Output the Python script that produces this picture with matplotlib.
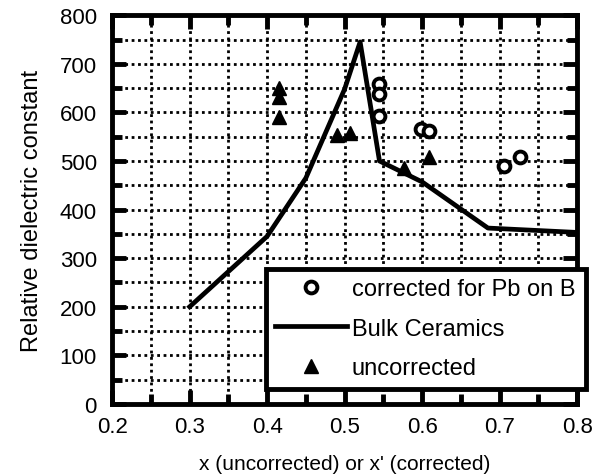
import matplotlib.pyplot as plt
from matplotlib.ticker import MultipleLocator

plt.rcParams['font.family'] = ['Liberation Sans', 'DejaVu Sans']

# Bulk ceramics curve
bulk_x = [0.3, 0.4, 0.45, 0.5, 0.52, 0.545, 0.6, 0.685, 0.8]
bulk_y = [200, 345, 465, 648, 745, 500, 457, 362, 353]

# corrected for Pb on B (open circles)
corr_x = [0.545, 0.545, 0.545, 0.598, 0.609, 0.706, 0.726]
corr_y = [658, 638, 592, 566, 562, 490, 508]

# uncorrected (filled triangles)
unc_x = [0.415, 0.415, 0.415, 0.49, 0.507, 0.576, 0.609]
unc_y = [650, 632, 590, 553, 558, 486, 508]

fig = plt.figure(figsize=(6.03, 4.77), dpi=100)
ax = fig.add_axes([0.186, 0.151, 0.771, 0.815])

ax.plot(corr_x, corr_y, 'o', mfc='white', mec='black', mew=2.8, ms=8.5,
        label='corrected for Pb on B', zorder=4)
ax.plot(bulk_x, bulk_y, '-', color='black', lw=3.4, label='Bulk Ceramics', zorder=3)
ax.plot(unc_x, unc_y, '^', color='black', ms=10, label='uncorrected', zorder=4)

ax.set_xlim(0.2, 0.8)
ax.set_ylim(0, 800)
ax.xaxis.set_major_locator(MultipleLocator(0.1))
ax.xaxis.set_minor_locator(MultipleLocator(0.05))
ax.yaxis.set_major_locator(MultipleLocator(100))
ax.yaxis.set_minor_locator(MultipleLocator(50))

ax.grid(True, which='both', color='black', lw=2, linestyle=(0, (1, 1.3)), zorder=1)
ax.tick_params(which='both', direction='in', top=True, right=True, width=3.5)
ax.tick_params(which='major', length=10, labelsize=16)
ax.tick_params(which='minor', length=7)
ax.tick_params(axis='x', which='major', pad=9)
ax.tick_params(axis='y', which='major', pad=11)
for s in ax.spines.values():
    s.set_linewidth(3.5)

ax.set_xlabel("x (uncorrected) or x' (corrected)", fontsize=15, labelpad=12)
ax.set_ylabel("Relative dielectric constant", fontsize=17, labelpad=12)

leg = ax.legend(loc='lower left', bbox_to_anchor=(0.330, 0.039, 0.690, 0.316),
                mode='expand', fontsize=17, frameon=True, fancybox=False,
                framealpha=1, edgecolor='black', borderaxespad=0,
                borderpad=0.4, handlelength=3.05, handletextpad=0.2,
                labelspacing=0.75)
leg.get_frame().set_linewidth(3.5)
leg.set_zorder(5)

fig.savefig('out.png', dpi=100)
